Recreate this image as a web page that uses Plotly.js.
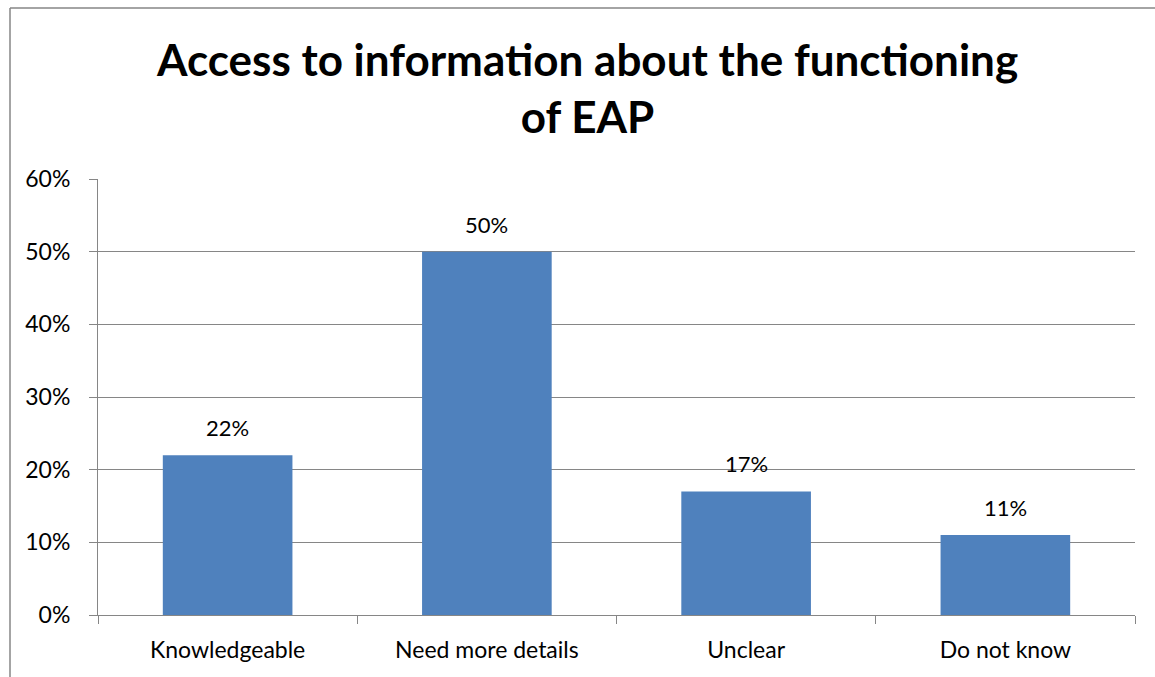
<!DOCTYPE html>
<html>
<head>
<meta charset="utf-8">
<script src="https://cdn.plot.ly/plotly-3.0.1.min.js"></script>
<style>html,body{margin:0;padding:0;background:#fff;}#chart{width:1155px;height:677px;}</style>
</head>
<body>
<div id="chart"></div>
<script>
const categories = ["Knowledgeable", "Need more details", "Unclear", "Do not know"];
const shares = [0.22, 0.50, 0.17, 0.11];
const yTickValues = [0, 0.1, 0.2, 0.3, 0.4, 0.5, 0.6];
const chartTitle = "Access to information about the functioning<br>of EAP";

const FONT = "Lato, 'Open Sans', sans-serif";
const plotL = 98, plotR = 1135, plotT = 179, plotB = 615;
const W = 1155, H = 677;
const pw = plotR - plotL, ph = plotB - plotT;
const px2x = p => (p - plotL) / pw;
const py2y = p => (plotB - p) / ph;

const trace = {
  type: "bar",
  x: categories,
  y: shares,
  marker: {color: "#4F81BD"},
  hoverinfo: "skip"
};

const labelAnnotations = categories.map((c, i) => ({
  x: c, y: shares[i], xref: "x", yref: "y",
  text: Math.round(shares[i] * 100) + "%",
  showarrow: false, xanchor: "center", yanchor: "bottom", yshift: 12,
  font: {family: FONT, size: 22, color: "#000"}
}));

const titleAnnotation = {
  xref: "paper", yref: "paper",
  x: px2x(587), y: py2y(31), xanchor: "center", yanchor: "top",
  text: chartTitle, showarrow: false, align: "center",
  font: {family: FONT, size: 44, color: "#000", weight: "bold"}
};

const layout = {
  width: W, height: H,
  margin: {l: plotL, r: W - plotR, t: plotT, b: H - plotB, pad: 0},
  paper_bgcolor: "#fff",
  plot_bgcolor: "#fff",
  bargap: 0.5,
  showlegend: false,
  font: {family: FONT, color: "#000"},
  xaxis: {
    type: "category",
    showline: true, linecolor: "#868686", linewidth: 1,
    ticks: "outside", ticklen: 8, tickcolor: "#868686",
    tickson: "boundaries",
    showgrid: false,
    tickfont: {family: FONT, size: 23, color: "#000"},
    ticklabelstandoff: 14
  },
  yaxis: {
    range: [0, 0.6],
    tickvals: yTickValues,
    tickformat: ".0%",
    showline: true, linecolor: "#868686", linewidth: 1,
    ticks: "outside", ticklen: 8, tickcolor: "#868686",
    showgrid: true, gridcolor: "#868686", gridwidth: 1,
    zeroline: false,
    tickfont: {family: FONT, size: 23, color: "#000"},
    ticklabelstandoff: 14
  },
  annotations: [titleAnnotation].concat(labelAnnotations),
  shapes: [
    {type: "line", xref: "paper", yref: "paper",
     x0: px2x(10), x1: px2x(10), y0: py2y(8), y1: py2y(700),
     line: {color: "#868686", width: 1.5}},
    {type: "line", xref: "paper", yref: "paper",
     x0: px2x(10), x1: px2x(1160), y0: py2y(8), y1: py2y(8),
     line: {color: "#868686", width: 1.5}}
  ]
};

Plotly.newPlot("chart", [trace], layout, {displayModeBar: false, staticPlot: true});
</script>
</body>
</html>
